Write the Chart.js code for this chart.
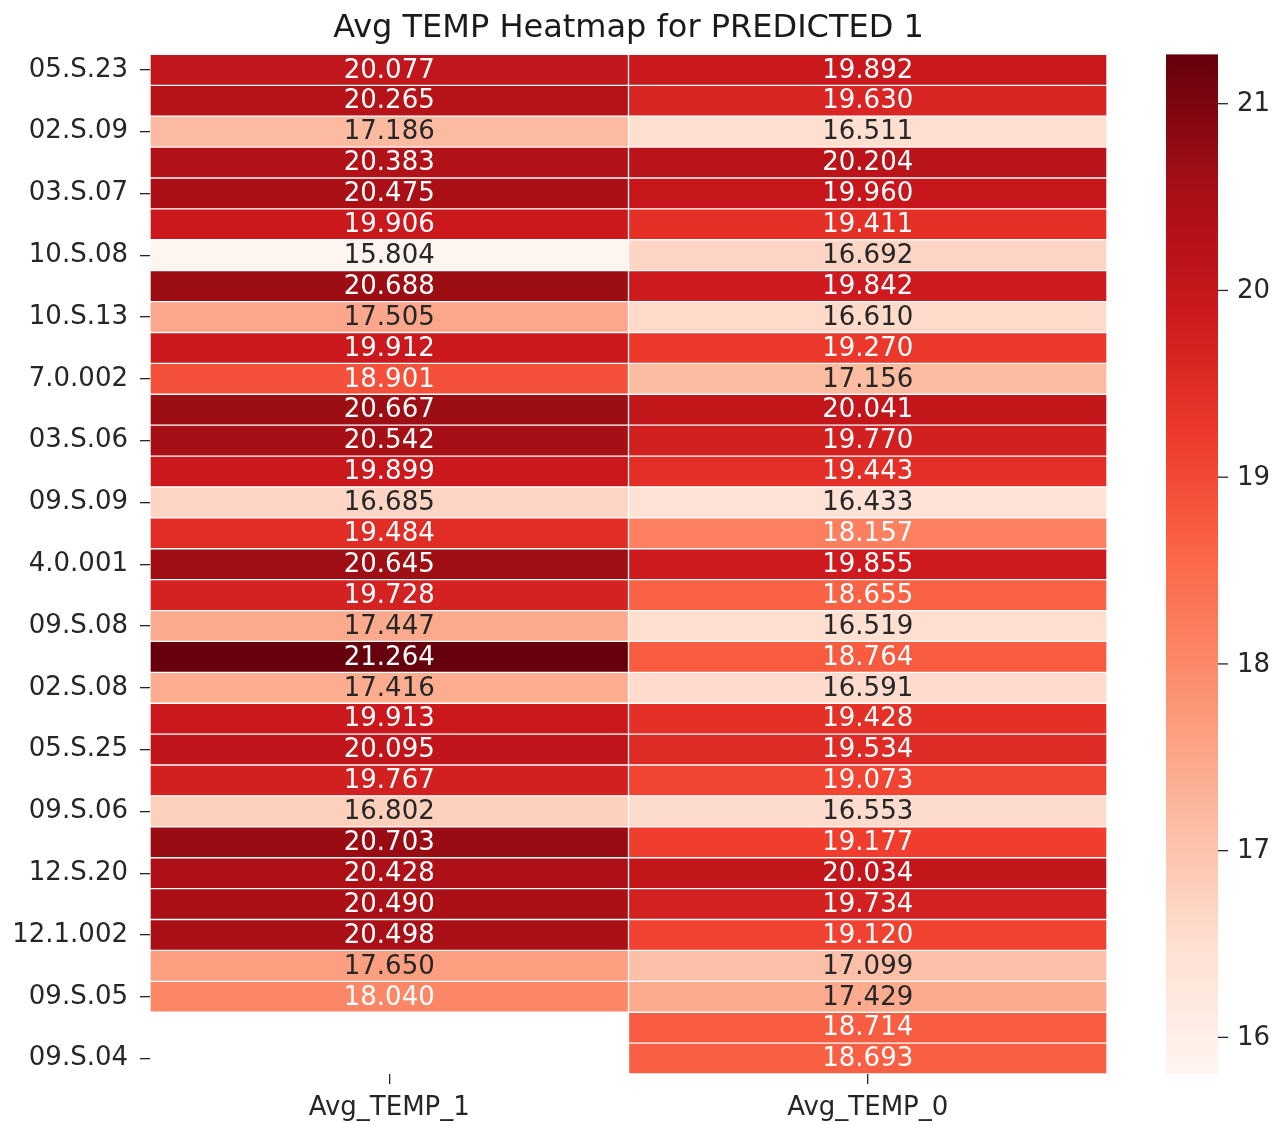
<!DOCTYPE html>
<html>
<head>
<meta charset="utf-8">
<title>Avg TEMP Heatmap for PREDICTED 1</title>
<script src="https://cdn.jsdelivr.net/npm/chart.js@4.4.1/dist/chart.umd.min.js"></script>
<style>
  html, body { margin: 0; padding: 0; background: #ffffff; }
  canvas { display: block; }
</style>
</head>
<body>
<canvas id="heat" width="1285" height="1124"></canvas>
<script>
// Row names shown on the y axis (every second row carries a label)
const labelledRows = [
  '05.S.23', '02.S.09', '03.S.07', '10.S.08', '10.S.13', '7.0.002',
  '03.S.06', '09.S.09', '4.0.001', '09.S.08', '02.S.08', '05.S.25',
  '09.S.06', '12.S.20', '12.1.002', '09.S.05', '09.S.04'
];

// Column names on the x axis
const columns = ['Avg_TEMP_1', 'Avg_TEMP_0'];

// Average temperature per row, one array per column (null = no value)
const avgTemp1 = [
  20.077, 20.265, 17.186, 20.383, 20.475, 19.906, 15.804, 20.688, 17.505, 19.912,
  18.901, 20.667, 20.542, 19.899, 16.685, 19.484, 20.645, 19.728, 17.447, 21.264,
  17.416, 19.913, 20.095, 19.767, 16.802, 20.703, 20.428, 20.490, 20.498, 17.650,
  18.040, null, null
];
const avgTemp0 = [
  19.892, 19.630, 16.511, 20.204, 19.960, 19.411, 16.692, 19.842, 16.610, 19.270,
  17.156, 20.041, 19.770, 19.443, 16.433, 18.157, 19.855, 18.655, 16.519, 18.764,
  16.591, 19.428, 19.534, 19.073, 16.553, 19.177, 20.034, 19.734, 19.120, 17.099,
  17.429, 18.714, 18.693
];

// Colour bar tick values
const colorbarTicks = [16, 17, 18, 19, 20, 21];

// ---- derived tables ----
const rowCount = avgTemp0.length;
const rowNames = Array.from({ length: rowCount }, (_, i) =>
  i % 2 === 0 ? (labelledRows[i / 2] || '') : '');

const allValues = avgTemp1.concat(avgTemp0).filter(v => v !== null);
const vmin = Math.min(...allValues);
const vmax = Math.max(...allValues);

// "Reds" sequential colour map (9-class ColorBrewer anchors)
const redsAnchors = [
  [255, 245, 240], [254, 224, 210], [252, 187, 161], [252, 146, 114],
  [251, 106, 74], [239, 59, 44], [203, 24, 29], [165, 15, 21], [103, 0, 13]
];
function redsAt(t) {
  t = Math.max(0, Math.min(1, t));
  const q = Math.min(255, Math.floor(t * 256)) / 255; // 256-level lookup
  const pos = q * (redsAnchors.length - 1);
  const i = Math.min(redsAnchors.length - 2, Math.floor(pos));
  const f = pos - i;
  const a = redsAnchors[i], b = redsAnchors[i + 1];
  return [0, 1, 2].map(k => a[k] + (b[k] - a[k]) * f);
}
function rgbString(c) {
  return `rgb(${c[0].toFixed(0)},${c[1].toFixed(0)},${c[2].toFixed(0)})`;
}
function colorFor(v) {
  return rgbString(redsAt((v - vmin) / (vmax - vmin)));
}
function luminance(v) {
  const c = redsAt((v - vmin) / (vmax - vmin)).map(x => {
    x = x / 255;
    return x <= 0.03928 ? x / 12.92 : Math.pow((x + 0.055) / 1.055, 2.4);
  });
  return 0.2126 * c[0] + 0.7152 * c[1] + 0.0722 * c[2];
}

// Each column becomes a dataset of floating horizontal bars spanning its column slot
function columnDataset(values, colIndex) {
  return {
    label: columns[colIndex],
    data: values.map(v => v === null ? null : [colIndex, colIndex + 1]),
    temps: values,
    backgroundColor: ctx => {
      const v = values[ctx.dataIndex];
      return v === null ? 'rgba(0,0,0,0)' : colorFor(v);
    },
    borderColor: '#ffffff',
    borderWidth: 1,
    borderSkipped: false,
    barPercentage: 1,
    categoryPercentage: 1,
    grouped: false
  };
}

const FONT = "'DejaVu Sans', 'Liberation Sans', sans-serif";
const TEXT = '#262626';

// Value annotation inside every cell
const cellLabels = {
  id: 'cellLabels',
  afterDatasetsDraw(chart) {
    const ctx = chart.ctx;
    ctx.save();
    ctx.font = `26px ${FONT}`;
    ctx.textAlign = 'center';
    ctx.textBaseline = 'middle';
    chart.data.datasets.forEach((ds, di) => {
      const meta = chart.getDatasetMeta(di);
      meta.data.forEach((el, i) => {
        const v = ds.temps[i];
        if (v === null || v === undefined) return;
        const p = el.getProps(['x', 'y', 'base'], true);
        ctx.fillStyle = luminance(v) > 0.408 ? TEXT : '#ffffff';
        ctx.fillText(v.toFixed(3), (p.x + p.base) / 2, p.y + 1);
      });
    });
    ctx.restore();
  }
};

// Colour bar to the right of the grid, spanning the full height of the plot area
const colorbar = {
  id: 'colorbar',
  afterDraw(chart) {
    const ctx = chart.ctx;
    const area = chart.chartArea;
    const x0 = area.right + 59, w = 52;
    const yTop = area.top, yBot = area.bottom;
    const toPixel = v => yBot - (v - vmin) / (vmax - vmin) * (yBot - yTop);
    const grad = ctx.createLinearGradient(0, yBot, 0, yTop);
    for (let s = 0; s <= 64; s++) {
      const t = s / 64;
      grad.addColorStop(t, rgbString(redsAt(t)));
    }
    ctx.save();
    ctx.fillStyle = grad;
    ctx.fillRect(x0, yTop, w, yBot - yTop);
    ctx.strokeStyle = TEXT;
    ctx.lineWidth = 1.3;
    ctx.fillStyle = TEXT;
    ctx.font = `26px ${FONT}`;
    ctx.textAlign = 'left';
    ctx.textBaseline = 'middle';
    colorbarTicks.forEach(v => {
      const y = toPixel(v);
      ctx.beginPath();
      ctx.moveTo(x0 + w, y);
      ctx.lineTo(x0 + w + 10, y);
      ctx.stroke();
      ctx.fillText(String(v), x0 + w + 19, y + 1);
    });
    ctx.restore();
  }
};

new Chart(document.getElementById('heat'), {
  type: 'bar',
  data: {
    labels: rowNames,
    datasets: [columnDataset(avgTemp1, 0), columnDataset(avgTemp0, 1)]
  },
  options: {
    indexAxis: 'y',
    responsive: false,
    animation: false,
    devicePixelRatio: 1,
    layout: { padding: { left: 0, right: 178, top: 0, bottom: 0 } },
    plugins: {
      legend: { display: false },
      tooltip: { enabled: false },
      title: {
        display: true,
        fullSize: false,
        text: 'Avg TEMP Heatmap for PREDICTED 1',
        color: '#1a1a1a',
        font: { family: FONT, size: 32, weight: 'normal' },
        padding: { top: 9, bottom: 7 }
      }
    },
    scales: {
      x: {
        type: 'linear',
        min: 0,
        max: columns.length,
        afterBuildTicks: scale => {
          scale.ticks = columns.map((_, i) => ({ value: i + 0.5 }));
        },
        afterFit: scale => { scale.height = 50; },
        ticks: {
          autoSkip: false,
          maxRotation: 0,
          color: TEXT,
          font: { family: FONT, size: 26 },
          padding: 9,
          callback: v => columns[Math.round(v - 0.5)]
        },
        grid: { drawOnChartArea: false, drawTicks: true, tickLength: 10, color: TEXT, lineWidth: 1.3 },
        border: { display: false }
      },
      y: {
        type: 'category',
        offset: true,
        afterBuildTicks: scale => {
          scale.ticks = scale.ticks.filter(t => rowNames[t.value] !== '');
        },
        afterFit: scale => { scale.width = 150; },
        ticks: {
          autoSkip: false,
          color: TEXT,
          font: { family: FONT, size: 26 },
          padding: 12
        },
        grid: { offset: false, drawOnChartArea: false, drawTicks: true, tickLength: 10, color: TEXT, lineWidth: 1.3 },
        border: { display: false }
      }
    }
  },
  plugins: [cellLabels, colorbar]
});
</script>
</body>
</html>
